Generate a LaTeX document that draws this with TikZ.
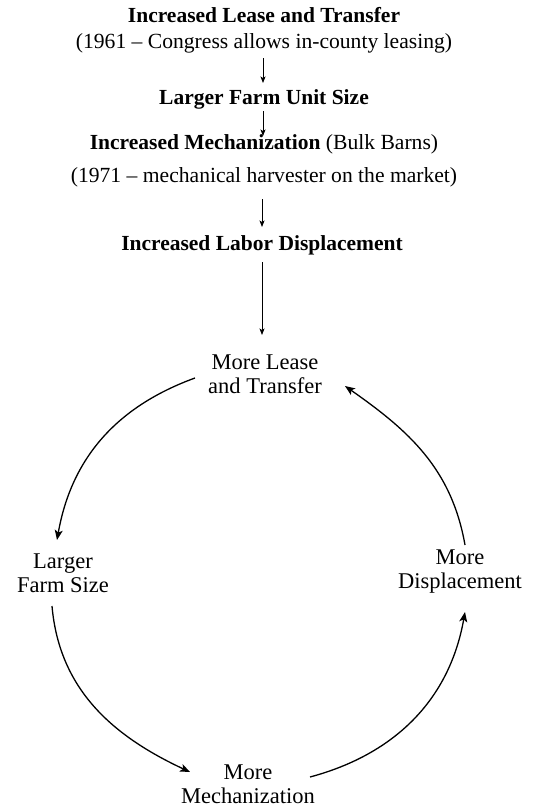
\documentclass[tikz,border=0pt]{standalone}
\usepackage{fontspec}
\setmainfont{Liberation Serif}
\usetikzlibrary{arrows.meta}
\begin{document}
\begin{tikzpicture}[x=1pt,y=-1pt,
  boldtxt/.style={inner sep=0pt,font=\fontsize{21.5}{25}\selectfont\bfseries},
  regtxt/.style={inner sep=0pt,font=\fontsize{21.6}{25}\selectfont},
  cyctxt/.style={inner sep=0pt,align=center,font=\fontsize{22.5}{24}\selectfont},
  smallarrow/.style={line width=0.8pt,-{Stealth[length=6.5pt,width=5pt,inset=1.5pt]}},
  cycarrow/.style={line width=1.3pt,-{Stealth[length=10pt,width=8pt,inset=2.5pt]}}]
\useasboundingbox (0,0) rectangle (533,811);
% top chain
\node[boldtxt] (l1) at (264,15) {Increased Lease and Transfer};
\node[regtxt] (l2) at (264,43) {(1961 \textendash{} Congress allows in-county leasing)};
\node[boldtxt] (lfus) at (264,99) {Larger Farm Unit Size};
\node[inner sep=0pt] (im) at (264,144) {\fontsize{21.5}{25}\selectfont\textbf{Increased Mechanization} \fontsize{21.6}{25}\selectfont(Bulk Barns)};
\node[regtxt] (l2b) at (264,177) {(1971 \textendash{} mechanical harvester on the market)};
\node[boldtxt] (ild) at (262,245) {Increased Labor Displacement};
% cycle labels
\node[cyctxt] (mlt) at (265,374) {More Lease\\and Transfer};
\node[cyctxt] (lfs) at (63,573) {Larger\\Farm Size};
\node[cyctxt] (md) at (460,572) {More\\Displacement};
\node[cyctxt] (mm) at (248,784) {More\\Mechanization};
% coordinates for arrows
\coordinate (a1s) at (263,58);  \coordinate (a1e) at (263,83);
\coordinate (a2s) at (263,111); \coordinate (a2e) at (263,136);
\coordinate (a3s) at (262,199); \coordinate (a3e) at (262,227);
\coordinate (a4s) at (262,262); \coordinate (a4e) at (262,335);
\draw[smallarrow] (a1s) -- (a1e);
\draw[smallarrow] (a2s) -- (a2e);
\draw[smallarrow] (a3s) -- (a3e);
\draw[smallarrow] (a4s) -- (a4e);
% cycle arcs
\coordinate (c1s) at (195,378); \coordinate (c1e) at (57,540);
\coordinate (c2s) at (52,606);  \coordinate (c2e) at (190,772);
\coordinate (c3s) at (310,777); \coordinate (c3e) at (465,612);
\coordinate (c4s) at (465,545); \coordinate (c4e) at (345,386);
\draw[cycarrow] (c1s) to[out=200,in=80] (c1e);
\draw[cycarrow] (c2s) to[out=-85,in=155] (c2e);
\draw[cycarrow] (c3s) to[out=15,in=-100] (c3e);
\draw[cycarrow] (c4s) to[out=100,in=-35] (c4e);
\end{tikzpicture}
\end{document}
